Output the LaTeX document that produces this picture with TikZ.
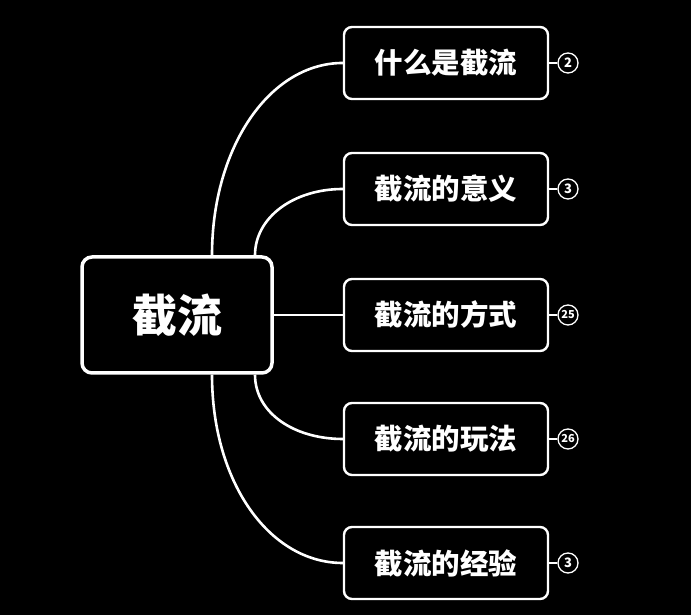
\documentclass[tikz,border=0pt]{standalone}
\usepackage{fontspec}
\newfontfamily\cjk{Noto Sans CJK SC}
\tikzset{
  rootbox/.style={draw=white, line width=3.5pt, rounded corners=10pt, fill=black,
    minimum width=190pt, minimum height=116pt, text=white, font=\cjk\bfseries\fontsize{45}{45}\selectfont},
  childbox/.style={draw=white, line width=2.4pt, rounded corners=8pt, fill=black,
    minimum width=204pt, minimum height=72pt, text=white, font=\cjk\bfseries\fontsize{28.5}{28.5}\selectfont},
  badge/.style={circle, draw=white, line width=1.3pt, minimum size=20pt, inner sep=0pt,
    text=white, font=\cjk\bfseries\fontsize{13}{13}\selectfont},
  link/.style={draw=white, line width=2.6pt}
}
\begin{document}
\begin{tikzpicture}[x=1pt, y=1pt]
  \fill[black] (0,0) rectangle (691,615);
  % root and topics
  \node[rootbox] (root) at (177,300) {截流};
  \node[childbox] (c1) at (446,552) {什么是截流};
  \node[childbox] (c2) at (446,426) {截流的意义};
  \node[childbox] (c3) at (446,300) {截流的方式};
  \node[childbox] (c4) at (446,176) {截流的玩法};
  \node[childbox] (c5) at (446,52) {截流的经验};
  % counters
  \node[badge] (b1) at (568,552) {2};
  \node[badge] (b2) at (568,426) {3};
  \node[badge, font=\cjk\bfseries\fontsize{11}{11}\selectfont] (b3) at (568,300) {25};
  \node[badge, font=\cjk\bfseries\fontsize{11}{11}\selectfont] (b4) at (568,176) {26};
  \node[badge] (b5) at (568,52) {3};
  % connectors
  \draw[link] ([xshift=35pt]root.north) .. controls +(0,108) and +(-73,0) .. (c1.west);
  \draw[link] ([xshift=78pt]root.north) .. controls +(0,38) and +(-49,0) .. (c2.west);
  \draw[link] (root.east) -- (c3.west);
  \draw[link] ([xshift=78pt]root.south) .. controls +(0,-38) and +(-49,0) .. (c4.west);
  \draw[link] ([xshift=35pt]root.south) .. controls +(0,-108) and +(-73,0) .. (c5.west);
  \foreach \i in {1,...,5}
    \draw[draw=white, line width=1.3pt] (c\i.east) -- (b\i.west);
\end{tikzpicture}
\end{document}
